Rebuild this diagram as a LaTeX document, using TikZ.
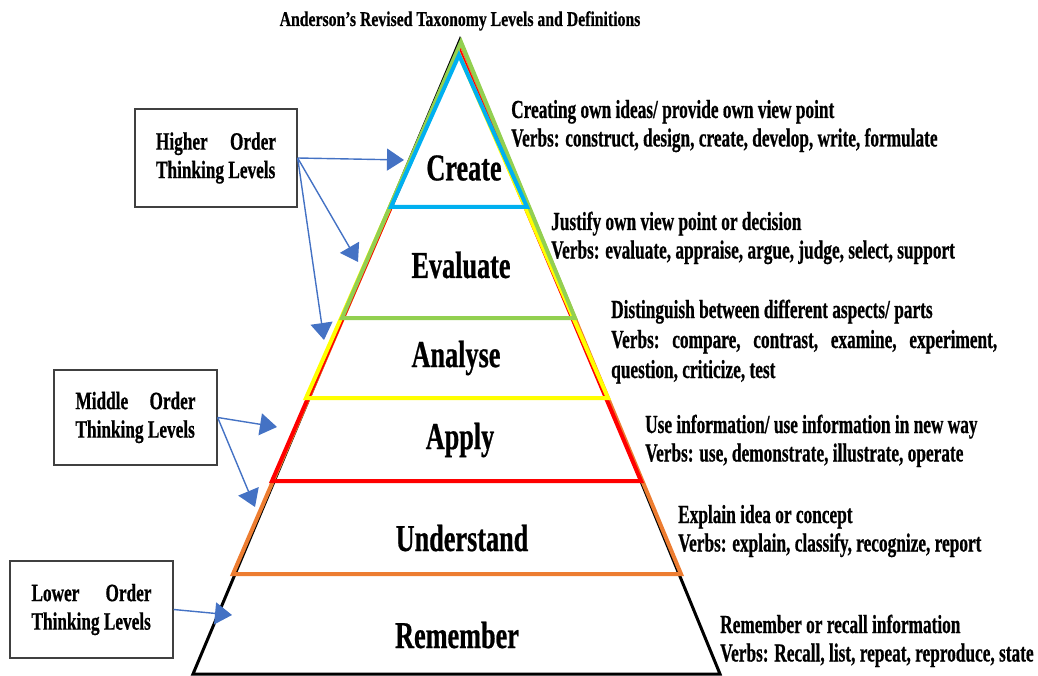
\documentclass[tikz,border=0pt]{standalone}
\usepackage{fontspec}
\setmainfont{Liberation Serif}[FakeStretch=0.75,BoldFeatures={FakeBold=0.6}]
\newfontfamily\deffont{Liberation Serif}[FakeStretch=0.665,BoldFeatures={FakeBold=0.6}]
\newfontfamily\boxfont{Liberation Serif}[FakeStretch=0.69,BoldFeatures={FakeBold=0.6}]
\newfontfamily\lvlfont{Liberation Serif}[FakeStretch=0.69,BoldFeatures={FakeBold=0.6}]
\usetikzlibrary{arrows.meta}
\definecolor{cblue}{HTML}{00B0F0}
\definecolor{cgreen}{HTML}{92D050}
\definecolor{cyellow}{HTML}{FFFF00}
\definecolor{cred}{HTML}{FF0000}
\definecolor{corange}{HTML}{ED7D31}
\definecolor{carrow}{HTML}{4472C4}
\definecolor{cbox}{HTML}{404040}
\newcommand{\twoline}[2]{\vtop{\baselineskip=28.5pt\hbox{#1}\hbox{#2}}}
\begin{document}
\begin{tikzpicture}[x=1pt,y=-1pt,
  tri/.style={line width=4pt,line join=miter},
  lvl/.style={font=\lvlfont\fontsize{38}{42}\selectfont\bfseries,inner sep=0pt},
  defn/.style={font=\deffont\fontsize{26}{30}\selectfont\bfseries,anchor=base west,inner sep=0pt},
  lbox/.style={draw=cbox,line width=1.3pt,font=\boxfont\fontsize{25}{28}\selectfont\bfseries,inner sep=0pt},
  arr/.style={draw=carrow,line width=1.4pt,-{Triangle[length=17pt,width=22pt]},carrow}]
\useasboundingbox (0,0) rectangle (1038,676);
% title
\node[font=\fontsize{21}{24}\selectfont\bfseries,anchor=base,inner sep=0pt] (title) at (460,26) {Anderson’s Revised Taxonomy Levels and Definitions};
% triangles
\draw[line width=3pt,black,line join=miter] (460,40) -- (720,674) -- (193,674) -- cycle;
\draw[tri,corange] (461,44) -- (681,574) -- (233,574) -- cycle;
\draw[tri,cred] (459,50) -- (641,481) -- (272,481) -- cycle;
\draw[tri,cyellow] (458,52) -- (608,398) -- (306,398) -- cycle;
\draw[tri,cgreen] (461,42) -- (575,318) -- (342,318) -- cycle;
\draw[tri,cblue] (459,55) -- (527,207) -- (391,207) -- cycle;
% level labels
\node[lvl] (create) at (464,168) {Create};
\node[lvl] (evaluate) at (461,265) {Evaluate};
\node[lvl] (analyse) at (456,358) {Analyse};
\node[lvl] (apply) at (460,440) {Apply};
\node[lvl] (understand) at (462,538) {Understand};
\node[lvl] (remember) at (457,635) {Remember};
% definitions
\node[defn] (dcreate) at (511,118) {\twoline{Creating own ideas/ provide own view point}{Verbs: construct, design, create, develop, write, formulate}};
\node[defn] (devaluate) at (551,230) {\twoline{Justify own view point or decision}{Verbs: evaluate, appraise, argue, judge, select, support}};
\node[defn] (danalyse) at (611,318) {\vtop{\baselineskip=30pt\hbox{Distinguish between different aspects/ parts}\hbox to 386pt{Verbs:\hfill compare,\hfill contrast,\hfill examine,\hfill experiment,}\hbox{question, criticize, test}}};
\node[defn] (dapply) at (645,433) {\twoline{Use information/ use information in new way}{Verbs: use, demonstrate, illustrate, operate}};
\node[defn] (dunderstand) at (678,523) {\twoline{Explain idea or concept}{Verbs: explain, classify, recognize, report}};
\node[defn] (dremember) at (720,633) {\twoline{Remember or recall information}{Verbs: Recall, list, repeat, reproduce, state}};
% boxes
\node[lbox,minimum width=162pt,minimum height=98pt] (hbox) at (216,158) {\twoline{\hbox to 120pt{Higher\hfill Order}}{Thinking Levels}};
\node[lbox,minimum width=163pt,minimum height=95pt] (mbox) at (135.5,417.5) {\twoline{\hbox to 120pt{Middle\hfill Order}}{Thinking Levels}};
\node[lbox,minimum width=163pt,minimum height=97pt] (lobox) at (91.5,609.5) {\twoline{\hbox to 120pt{Lower\hfill Order}}{Thinking Levels}};
% arrow targets
\coordinate (tcreate) at (404,160);
\coordinate (tevaluate) at (358,262);
\coordinate (tanalyse) at (324,340);
\coordinate (tapply) at (277,427);
\coordinate (tunderstand) at (255,507);
\coordinate (tremember) at (232,615);
\draw[arr] (hbox.east) -- (tcreate);
\draw[arr] (hbox.east) -- (tevaluate);
\draw[arr] (hbox.east) -- (tanalyse);
\draw[arr] (mbox.east) -- (tapply);
\draw[arr] (mbox.east) -- (tunderstand);
\draw[arr] (lobox.east) -- (tremember);
\end{tikzpicture}
\end{document}
